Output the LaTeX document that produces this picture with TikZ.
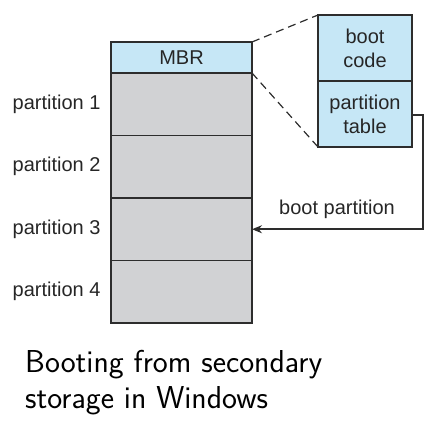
\documentclass[tikz,border=0pt]{standalone}
\usepackage{fontspec}
\setmainfont{Liberation Sans}
\usepackage{tikz}
\usetikzlibrary{positioning, arrows.meta}
\definecolor{mbrblue}{RGB}{198,231,246}
\definecolor{partgray}{RGB}{209,210,212}
\definecolor{edge}{RGB}{45,45,45}

\begin{document}
\begin{tikzpicture}[x=1pt, y=-1pt,
  part/.style={rectangle, draw=edge, line width=1.1pt, fill=partgray, minimum width=141pt, minimum height=62.5pt, outer sep=0pt, inner sep=0pt},
  blue/.style={rectangle, draw=edge, line width=1.1pt, fill=mbrblue, outer sep=0pt, inner sep=0pt, align=center},
  lbl/.style={font=\fontsize{20}{23}\selectfont, text=black!85}]
\useasboundingbox (0,0) rectangle (442,427);

% disk with MBR and partitions
\node[blue, lbl, minimum width=141pt, minimum height=31pt, anchor=north west] (mbr) at (111,42) {MBR};
\node[part, anchor=north] (p1) at (mbr.south) {};
\node[part, anchor=north] (p2) at (p1.south) {};
\node[part, anchor=north] (p3) at (p2.south) {};
\node[part, anchor=north] (p4) at (p3.south) {};

\node[lbl, left=7pt of p1] {partition 1};
\node[lbl, left=7pt of p2] {partition 2};
\node[lbl, left=7pt of p3] {partition 3};
\node[lbl, left=7pt of p4] {partition 4};

% MBR detail
\node[blue, lbl, minimum width=94pt, minimum height=66pt, anchor=north west, font=\fontsize{20}{24}\selectfont] (code) at (318,15) {boot\\code};
\node[blue, lbl, minimum width=94pt, minimum height=66pt, anchor=north, font=\fontsize{20}{24}\selectfont] (table) at (code.south) {partition\\table};

\draw[edge, dash pattern=on 8pt off 5pt, line width=1.2pt] (mbr.north east) -- (code.north west);
\draw[edge, dash pattern=on 8pt off 5pt, line width=1.2pt] (mbr.south east) -- (table.south west);

\coordinate (turn) at (423,115);
\draw[edge, -{Stealth[length=10pt, width=8pt]}, line width=1.6pt] (table.east |- turn) -- (turn) |- (p3.east);
\node[lbl] (boot) at (337,209) {boot partition};

% caption
\node[anchor=base west, align=left, inner sep=0pt, font=\sffamily\fontsize{31.7}{36}\selectfont] (cap) at (25,409) {Booting from secondary\\storage in Windows};

\end{tikzpicture}
\end{document}
